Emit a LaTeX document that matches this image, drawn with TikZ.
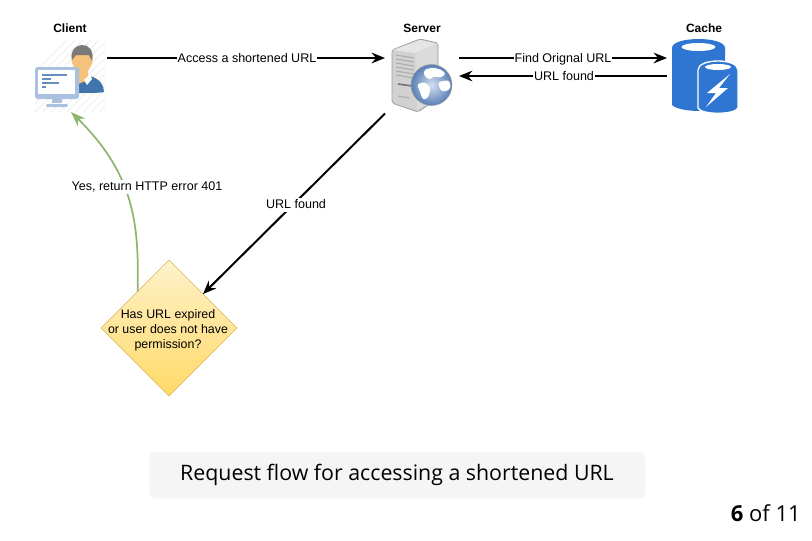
\documentclass[tikz,border=0pt]{standalone}
\usepackage{fontspec}
\setmainfont{Liberation Sans}
\newfontfamily\capfont{Open Sans}
\usetikzlibrary{arrows.meta,shapes.geometric}
\definecolor{CacheBlue}{HTML}{2F76D2}
\definecolor{ScreenBlue}{HTML}{A9C0DF}
\definecolor{ShirtBlue}{HTML}{3F74AC}
\definecolor{FaceTone}{HTML}{F4C27A}
\definecolor{FlowGreen}{HTML}{8DB76F}
\definecolor{GlobeLight}{HTML}{D3E0F0}
\definecolor{GlobeDark}{HTML}{5A7FB5}
\tikzset{
  flow/.style={-{Stealth[length=10pt,width=8pt]},line width=1.5pt,black},
  flowlabel/.style={fill=white,inner xsep=0.5pt,inner ysep=1pt,text height=7pt,text depth=2pt,font=\fontsize{9.4}{11}\selectfont},
  title/.style={font=\bfseries\fontsize{9}{11}\selectfont},
  holder/.style={inner sep=0pt,outer sep=0pt,minimum width=#1*0.75pt,minimum height=#1*0.75pt},
}
\begin{document}
\begin{tikzpicture}[x=0.75pt,y=-0.75pt]
   \useasboundingbox (0,0) rectangle (812,540);

   % client
   \node(Cl)[holder=72] at (71,76) {};
   \node(NCl)[title] at (70,28) {Client};
   \begin{scope}
    \clip (35,40) rectangle (105,112);
    \foreach \i in {0,8,...,150}
      \draw[black!6, line width=1pt] (35+\i-40,112) -- (35+\i+32,40);
   \end{scope}
   \fill[ShirtBlue] (78,93) -- (78,80) -- (90,76) .. controls (100,79) and (104,85) .. (104,92) .. controls (100,93) and (90,93) .. (78,93) -- cycle;
   \fill[FaceTone] (71,54) -- (93,54) -- (92,64) -- (88,71) -- (88,80) -- (78,84) -- (77,71) -- (72,63) -- cycle;
   \fill[white] (84,80) -- (90,74) -- (92,79) -- (87,85) -- cycle;
   \fill[black!52] (72,60) .. controls (70,49) and (77,45) .. (82,45) .. controls (89,45) and (94,50) .. (92,61) -- (89,55) -- (76,55) -- cycle;
   \fill[ScreenBlue, rounded corners=2pt] (35,67) rectangle (79,99);
   \fill[white] (38,70) rectangle (75,94);
   \fill[ScreenBlue] (52,99) rectangle (62,103);
   \fill[ScreenBlue, rounded corners=1pt] (46,104) rectangle (68,107);
   \foreach \y/\w in {75/25,79/9,83/17,87/4}
     \draw[ShirtBlue!80!white, line width=1.2pt] (42,\y) -- (42+\w,\y);

   % server
   \node(Sv)[holder=74] at (422,76.5) {};
   \node(NSv)[title] at (422,28) {Server};
   \fill[black!18, draw=black!38, line width=0.6pt, rounded corners=1.5pt] (392,50) -- (420,39) -- (438,43) -- (438,98) -- (418,112) -- (392,103) -- cycle;
   \fill[black!10] (393,50) -- (420,40) -- (437,44) -- (415,53) -- cycle;
   \fill[black!14] (415,53) -- (437,44) -- (437,98) -- (417,110) -- cycle;
   \foreach \y in {58,62,66,70,74,78}
     \draw[black!32, line width=0.8pt] (396,\y-3) -- (414,\y);
   \draw[black!55, line width=1.2pt] (398,84) -- (412,86);
   \draw[black!32, line width=0.8pt] (398,96) -- (410,98);
   \shade[inner color=GlobeLight, outer color=GlobeDark, draw=black!38] (431.5,85) circle (20.5);
   \fill[white, rounded corners=2pt] (424,70) .. controls (432,67) and (440,68) .. (446,74) -- (440,78) -- (434,76) -- (430,80) -- (424,76) -- cycle;
   \fill[white, rounded corners=2pt] (417,84) -- (425,82) -- (431,88) -- (428,98) -- (423,100) -- (420,92) -- cycle;
   \fill[white, rounded corners=2pt] (438,82) -- (449,80) -- (451,88) -- (445,92) -- (440,90) -- cycle;

   % cache
   \node(Ca)[holder=70] at (704,76) {};
   \node(NCa)[title] at (704,28) {Cache};
   \fill[CacheBlue] (672,48) .. controls (672,36) and (725,36) .. (725,48) -- (725,105) .. controls (720,113) and (680,113) .. (672,105) -- cycle;
   \fill[white] (698.5,47) ellipse (17 and 4);
   \fill[CacheBlue, draw=white, line width=1pt] (698,70) .. controls (698,58) and (738,58) .. (738,70) -- (738,108) .. controls (735,115) and (701,115) .. (698,108) -- cycle;
   \fill[white] (718,67) ellipse (13 and 3);
   \fill[white] (730,74) -- (707,93) -- (716,93) -- (706,107) -- (728,88) -- (719,88) -- cycle;

   % decision
   \node(D)[diamond, aspect=1, inner sep=0pt, outer sep=0pt, minimum width=102pt, minimum height=102pt,
     draw={rgb,255:red,214;green,182;blue,86}, top color={rgb,255:red,255;green,242;blue,204}, bottom color={rgb,255:red,255;green,217;blue,102}] at (169,328) {};
   \node(ND)[align=center, font=\fontsize{9.3}{11.2}\selectfont] at (168,330) {Has URL expired\\or user does not have\\permission?};

   % caption
   \node(Cap)[fill=black!4, rounded corners=5pt, minimum width=372pt, minimum height=35pt, inner sep=0pt,
     font=\capfont\fontsize{16}{19}\selectfont] at (397,475) {Request flow for accessing a shortened URL};
   \node(Pg)[anchor=east, inner sep=0pt, font=\capfont\fontsize{16.5}{19}\selectfont] at (801,513) {\textbf{6} of 11};

   % connectors
   \draw[flow] ([yshift=13.5pt]Cl.east) -- ([yshift=13.875pt]Sv.west);
   \draw[flow] ([yshift=13.875pt]Sv.east) -- ([xshift=-1.5pt,yshift=13.5pt]Ca.west);
   \draw[flow] ([xshift=-1.5pt]Ca.west) -- (Sv.east |- Ca.west);
   \draw[flow] (Sv.south west) -- (D.north east);
   \draw[-{Stealth[length=11pt,width=8pt]}, FlowGreen, line width=1.3pt] ([xshift=2pt,yshift=2pt]D.north west) .. controls (139,225) and (135,175) .. (Cl.south);

   \node(L1)[flowlabel] at (247,59) {Access a shortened URL};
   \node(L2)[flowlabel] at (563,59) {Find Orignal URL};
   \node(L3)[flowlabel] at (564,77) {URL found};
   \node(L4)[flowlabel] at (296,205) {URL found};
   \node(L5)[flowlabel] at (147,187) {Yes, return HTTP error 401};
\end{tikzpicture}
\end{document}
